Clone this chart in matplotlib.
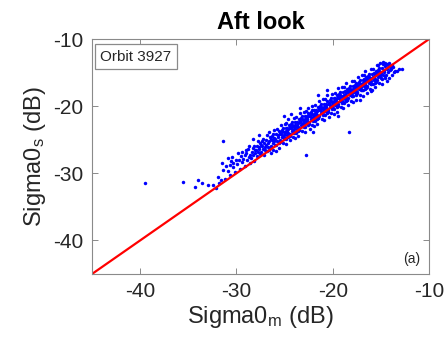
import matplotlib
matplotlib.use("Agg")
import matplotlib.pyplot as plt

plt.rcParams['font.family'] = ['Liberation Sans', 'DejaVu Sans']
plt.rcParams['mathtext.default'] = 'regular'
plt.rcParams['axes.unicode_minus'] = False

# Scatter cloud (dB)
sigma0_m = [
    -32.15, -32.45,
    -31.85, -31.55, -31.95,
    -31.15, -31.4, -31.1,
    -30.65, -30.9, -30.7, -30.55,
    -30.1, -30.4, -30.3, -30.05, -30.45,
    -29.6, -29.9, -29.7, -29.55, -29.85,
    -29.1, -29.4, -29.3, -29.15, -29.45, -29.05,
    -28.6, -28.9, -28.7, -28.55, -28.95, -28.8, -28.65,
    -28.15, -28.45, -28.25, -28.05, -28.35, -28.1, -28.3, -28.2,
    -27.85, -27.55, -27.95, -27.7, -27.65, -27.9, -27.55, -27.8, -27.75,
    -27.15, -27.45, -27.25, -27.05, -27.35, -27.1, -27.3, -27.2, -27.03, -27.43,
    -26.85, -26.55, -26.95, -26.7, -26.65, -26.9, -26.55, -26.8, -26.75, -26.6,
    -26.15, -26.45, -26.25, -26.05, -26.35, -26.1, -26.3, -26.2, -26.03, -26.43,
    -25.85, -25.55, -25.95, -25.7, -25.65, -25.9, -25.55, -25.8, -25.75, -25.6,
    -25.15, -25.45, -25.25, -25.05, -25.35, -25.1, -25.3, -25.2, -25.03, -25.43, -25.13, -25.37, -25.22, -25.48,
    -24.85, -24.55, -24.95, -24.7, -24.65, -24.9, -24.55, -24.8, -24.75, -24.6, -24.63, -24.87, -24.72, -24.98,
    -24.15, -24.45, -24.25, -24.05, -24.35, -24.1, -24.3, -24.2, -24.03, -24.43, -24.13, -24.37, -24.22, -24.48,
    -23.85, -23.55, -23.95, -23.7, -23.65, -23.9, -23.55, -23.8, -23.75, -23.6, -23.63, -23.87, -23.72, -23.98,
    -23.15, -23.45, -23.25, -23.05, -23.35, -23.1, -23.3, -23.2, -23.03, -23.43, -23.13, -23.37, -23.22, -23.48,
    -22.85, -22.55, -22.95, -22.7, -22.65, -22.9, -22.55, -22.8, -22.75, -22.6, -22.63, -22.87, -22.72, -22.98,
    -22.15, -22.45, -22.25, -22.05, -22.35, -22.1, -22.3, -22.2, -22.03, -22.43, -22.13, -22.37, -22.22, -22.48,
    -21.85, -21.55, -21.95, -21.7, -21.65, -21.9, -21.55, -21.8, -21.75, -21.6, -21.63, -21.87, -21.72, -21.98,
    -21.15, -21.45, -21.25, -21.05, -21.35, -21.1, -21.3, -21.2, -21.03, -21.43, -21.13, -21.37, -21.22, -21.48,
    -20.85, -20.55, -20.95, -20.7, -20.65, -20.9, -20.55, -20.8, -20.75, -20.6, -20.63, -20.87, -20.72, -20.98,
    -20.15, -20.45, -20.25, -20.05, -20.35, -20.1, -20.3, -20.2, -20.03, -20.43, -20.13, -20.37, -20.22, -20.48,
    -19.85, -19.55, -19.95, -19.7, -19.65, -19.9, -19.55, -19.8, -19.75, -19.6, -19.63, -19.87, -19.72, -19.98,
    -19.15, -19.45, -19.25, -19.05, -19.35, -19.1, -19.3, -19.2, -19.03, -19.43, -19.13, -19.37, -19.22, -19.48,
    -18.85, -18.55, -18.95, -18.7, -18.65, -18.9, -18.55, -18.8, -18.75, -18.6, -18.63, -18.87, -18.72, -18.98,
    -18.15, -18.45, -18.25, -18.05, -18.35, -18.1, -18.3, -18.2, -18.03, -18.43, -18.13, -18.37, -18.22, -18.48,
    -17.85, -17.55, -17.95, -17.7, -17.65, -17.9, -17.55, -17.8, -17.75, -17.6, -17.63, -17.87, -17.72, -17.98,
    -17.15, -17.45, -17.25, -17.05, -17.35, -17.1, -17.3, -17.2, -17.03, -17.43, -17.13, -17.37, -17.22, -17.48,
    -16.85, -16.55, -16.95, -16.7, -16.65, -16.9, -16.55, -16.8, -16.75, -16.6, -16.63, -16.87, -16.72, -16.98,
    -16.15, -16.45, -16.25, -16.05, -16.35, -16.1, -16.3, -16.2, -16.03, -16.43, -16.13, -16.37, -16.22, -16.48,
    -15.85, -15.55, -15.95, -15.7, -15.65, -15.9, -15.55, -15.8, -15.75, -15.6, -15.63, -15.87, -15.72, -15.98,
    -15.15, -15.45, -15.25, -15.05, -15.35, -15.1, -15.3, -15.2, -15.03, -15.43, -15.13, -15.37, -15.22, -15.48,
    -15.1, -14.8, -14.6, -15.3, -14.4,
    -14.85, -14.55, -14.95, -14.7, -14.65, -14.9, -14.55, -14.8, -14.75, -14.6,
    -14.15, -14.45, -14.25, -14.05, -14.35, -14.1, -14.3, -14.2,
    -13.85, -13.6, -13.9, -13.7, -13.55, -13.8,
    -13.3, -13.1, -12.85,
    # upper and lower edges of the band
    -26.6, -25.4, -24.6, -23.4, -22.6, -21.4, -20.6, -19.4, -18.6, -17.4, -16.6, -15.4,
    -26.1, -25.0, -24.0, -23.0, -22.1, -21.0, -20.1, -19.0, -18.0, -17.0, -16.0,
    -26.4, -25.6, -24.4, -23.6, -22.4, -21.6, -20.4, -19.6, -18.4, -17.6, -16.4, -15.6, -14.4,
    -25.9, -24.9, -23.9, -22.9, -21.9, -20.9, -19.9, -18.9, -17.9, -16.9, -15.9, -14.9,
    # sparse points away from the main band
    -39.5, -35.5, -34.3, -34.0, -33.6, -32.9, -31.4, -22.8, -18.3,
    -27.7, -28.3, -31.5, -30.9,
    -25.1, -24.3, -23.4, -20.6, -21.5,
    -22.0, -19.5, -17.2, -16.0,
]
sigma0_s = [
    -32.25, -31.75,
    -31.45, -31.05, -30.55,
    -30.9, -29.5, -28.9,
    -30.2, -29.6, -28.8, -28.2,
    -29.8, -29.1, -28.5, -28.0, -27.5,
    -29.3, -28.6, -28.0, -27.4, -26.9,
    -28.9, -28.3, -27.8, -27.3, -26.8, -26.5,
    -28.5, -28.0, -27.6, -27.2, -26.9, -26.4, -25.9,
    -28.15, -27.65, -27.25, -26.95, -26.75, -26.45, -26.15, -25.85,
    -27.45, -27.05, -26.55, -26.35, -26.05, -25.85, -25.45, -25.15, -26.85,
    -27.25, -26.75, -26.35, -26.05, -25.85, -25.55, -25.25, -24.95, -26.55, -25.75,
    -26.65, -26.25, -25.75, -25.55, -25.25, -25.05, -24.65, -24.35, -26.05, -26.45,
    -26.45, -25.95, -25.55, -25.25, -25.05, -24.75, -24.45, -24.15, -25.75, -24.95,
    -25.75, -25.35, -24.85, -24.65, -24.35, -24.15, -23.75, -23.45, -25.15, -25.55,
    -25.55, -25.05, -24.65, -24.35, -24.15, -23.85, -23.55, -23.25, -24.85, -24.05, -24.5, -24.2, -23.7, -25.3,
    -24.85, -24.45, -23.95, -23.75, -23.45, -23.25, -22.85, -22.55, -24.25, -24.65, -24.0, -23.7, -23.2, -24.8,
    -24.65, -24.15, -23.75, -23.45, -23.25, -22.95, -22.65, -22.35, -23.95, -23.15, -23.6, -23.3, -22.8, -24.4,
    -23.95, -23.55, -23.05, -22.85, -22.55, -22.35, -21.95, -21.65, -23.35, -23.75, -23.1, -22.8, -22.3, -23.9,
    -23.75, -23.25, -22.85, -22.55, -22.35, -22.05, -21.75, -21.45, -23.05, -22.25, -22.7, -22.4, -21.9, -23.5,
    -23.05, -22.65, -22.15, -21.95, -21.65, -21.45, -21.05, -20.75, -22.45, -22.85, -22.2, -21.9, -21.4, -23.0,
    -22.85, -22.35, -21.95, -21.65, -21.45, -21.15, -20.85, -20.55, -22.15, -21.35, -21.8, -21.5, -21.0, -22.6,
    -22.15, -21.75, -21.25, -21.05, -20.75, -20.55, -20.15, -19.85, -21.55, -21.95, -21.3, -21.0, -20.5, -22.1,
    -21.95, -21.45, -21.05, -20.75, -20.55, -20.25, -19.95, -19.65, -21.25, -20.45, -20.9, -20.6, -20.1, -21.7,
    -21.25, -20.85, -20.35, -20.15, -19.85, -19.65, -19.25, -18.95, -20.65, -21.05, -20.4, -20.1, -19.6, -21.2,
    -21.05, -20.55, -20.15, -19.85, -19.65, -19.35, -19.05, -18.75, -20.35, -19.55, -20.0, -19.7, -19.2, -20.8,
    -20.35, -19.95, -19.45, -19.25, -18.95, -18.75, -18.35, -18.05, -19.75, -20.15, -19.5, -19.2, -18.7, -20.3,
    -20.15, -19.65, -19.25, -18.95, -18.75, -18.45, -18.15, -17.85, -19.45, -18.65, -19.1, -18.8, -18.3, -19.9,
    -19.45, -19.05, -18.55, -18.35, -18.05, -17.85, -17.45, -17.15, -18.85, -19.25, -18.6, -18.3, -17.8, -19.4,
    -19.25, -18.75, -18.35, -18.05, -17.85, -17.55, -17.25, -16.95, -18.55, -17.75, -18.2, -17.9, -17.4, -19.0,
    -18.55, -18.15, -17.65, -17.45, -17.15, -16.95, -16.55, -16.25, -17.95, -18.35, -17.7, -17.4, -16.9, -18.5,
    -18.35, -17.85, -17.45, -17.15, -16.95, -16.65, -16.35, -16.05, -17.65, -16.85, -17.3, -17.0, -16.5, -18.1,
    -17.65, -17.25, -16.75, -16.55, -16.25, -16.05, -15.65, -15.35, -17.05, -17.45, -16.8, -16.5, -16.0, -17.6,
    -17.45, -16.95, -16.55, -16.25, -16.05, -15.75, -15.45, -15.15, -16.75, -15.95, -16.4, -16.1, -15.6, -17.2,
    -16.75, -16.35, -15.85, -15.65, -15.35, -15.15, -14.75, -14.45, -16.15, -16.55, -15.9, -15.6, -15.1, -16.7,
    -16.55, -16.05, -15.65, -15.35, -15.15, -14.85, -14.55, -14.25, -15.85, -15.05, -15.5, -15.2, -14.7, -16.3,
    -13.6, -13.4, -13.5, -13.9, -13.7,
    -15.95, -15.55, -15.05, -14.85, -14.55, -14.35, -13.95, -13.65, -15.35, -15.75,
    -15.85, -15.35, -14.95, -14.65, -14.45, -14.15, -13.85, -13.55,
    -15.3, -14.9, -14.5, -14.2, -14.7, -13.9,
    -14.8, -14.5, -14.45,
    -23.9, -22.8, -21.9, -21.0, -20.2, -19.2, -18.4, -17.3, -16.6, -15.6, -14.8, -13.8,
    -23.6, -22.6, -21.7, -20.8, -19.9, -18.9, -18.2, -17.2, -16.2, -15.3, -14.5,
    -27.0, -26.2, -25.1, -24.4, -23.4, -22.7, -21.6, -20.9, -19.8, -19.0, -18.0, -17.2, -16.3,
    -26.6, -25.6, -24.7, -23.8, -22.9, -22.0, -21.1, -20.3, -19.4, -18.5, -17.6, -16.7,
    -31.5, -31.3, -32.1, -31.0, -31.4, -31.8, -25.2, -27.2, -23.9,
    -24.3, -24.9, -28.5, -27.7,
    -21.4, -21.2, -20.3, -17.6, -18.4,
    -23.8, -21.5, -19.0, -17.8,
]

axis_lim = [-45, -10]
ticks = [-40, -30, -20, -10]

fig = plt.figure(figsize=(4.46, 3.43), dpi=100)
ax = fig.add_axes([0.206, 0.201, 0.756, 0.685])

ax.plot(sigma0_m, sigma0_s, 'o', color='blue', markersize=2.5, markeredgewidth=0)
ax.plot(axis_lim, axis_lim, color='red', linewidth=1.6)

ax.set_xlim(axis_lim)
ax.set_ylim(axis_lim)
ax.set_xticks(ticks)
ax.set_yticks(ticks)
ax.tick_params(direction='in', length=4, width=0.7, color='#8a8a8a',
               labelsize=15, labelcolor='#262626', top=True, right=True, pad=6)
for sp in ax.spines.values():
    sp.set_color('#8a8a8a')
    sp.set_linewidth(0.8)

ax.set_title('Aft look', fontsize=17, fontweight='bold', pad=7)
ax.set_xlabel('Sigma0$_{m}$ (dB)', fontsize=17, color='#262626', labelpad=2)
ax.set_ylabel('Sigma0$_{s}$ (dB)', fontsize=17, color='#262626', labelpad=4)

ax.text(0.025, 0.955, 'Orbit 3927', transform=ax.transAxes, fontsize=11,
        color='#262626', va='top', ha='left',
        bbox=dict(boxstyle='square,pad=0.35', facecolor='white', edgecolor='#8a8a8a', linewidth=0.9))
ax.text(0.975, 0.035, '(a)', transform=ax.transAxes, fontsize=10,
        color='#262626', va='bottom', ha='right')

fig.savefig('out.png', dpi=100)
